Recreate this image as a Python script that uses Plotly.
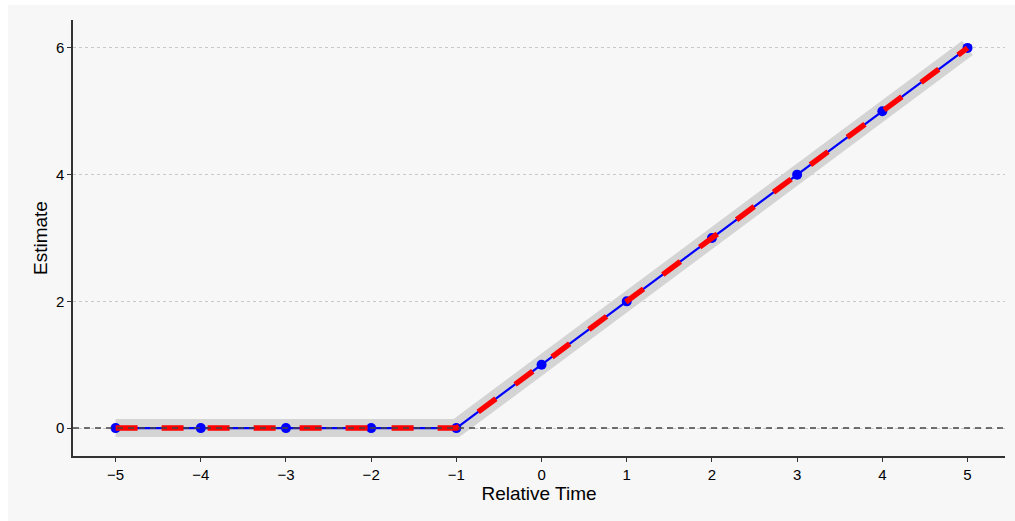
import plotly.graph_objects as go

rel_time = [-5, -4, -3, -2, -1, 0, 1, 2, 3, 4, 5]
estimate = [0, 0, 0, 0, 0, 1, 2, 3, 4, 5, 6]
true_effect = [0, 0, 0, 0, 0, 1, 2, 3, 4, 5, 6]
x_ticks = [-5, -4, -3, -2, -1, 0, 1, 2, 3, 4, 5]
y_ticks = [0, 2, 4, 6]

fig = go.Figure()
fig.add_trace(go.Scatter(x=rel_time, y=estimate, mode="lines",
                         line=dict(color="#d4d4d4", width=18),
                         hoverinfo="skip", showlegend=False))
fig.add_trace(go.Scatter(x=rel_time, y=estimate, mode="lines+markers",
                         line=dict(color="#0000ff", width=2.2),
                         marker=dict(color="#0000ff", size=10),
                         showlegend=False))
fig.add_trace(go.Scatter(x=rel_time, y=true_effect, mode="lines",
                         line=dict(color="#ff0000", width=5.5, dash="22px,24px"),
                         showlegend=False))

fig.add_shape(type="line", xref="paper", yref="y", x0=0, x1=1, y0=0, y1=0,
              line=dict(color="#444444", width=1.5, dash="6px,5px"), layer="above")
# white outer strips
fig.add_shape(type="rect", xref="paper", yref="paper",
              x0=-73/932, x1=-65/932, y0=-65/436, y1=1 + 20/436,
              fillcolor="white", line=dict(width=0), layer="below")
fig.add_shape(type="rect", xref="paper", yref="paper",
              x0=-73/932, x1=1 + 10/932, y0=1 + 15/436, y1=1 + 20/436,
              fillcolor="white", line=dict(width=0), layer="below")

fig.update_layout(
    width=1015, height=521,
    margin=dict(l=73, r=10, t=20, b=65),
    paper_bgcolor="#f7f7f7", plot_bgcolor="#f7f7f7",
    font=dict(family="Liberation Sans, Arial, sans-serif", color="#000000"),
    xaxis=dict(range=[-5.5, 5.44], tickvals=x_ticks, showgrid=False, zeroline=False,
               showline=True, linecolor="#333333", linewidth=1.5,
               ticks="outside", ticklen=4, tickcolor="#333333", tickwidth=1.2,
               tickfont=dict(size=15),
               title=dict(text="Relative Time", font=dict(size=19), standoff=2)),
    yaxis=dict(range=[-0.44, 6.44], tickvals=y_ticks, showgrid=True,
               gridcolor="#c8c8c8", griddash="dot", gridwidth=1.2, zeroline=False,
               showline=True, linecolor="#333333", linewidth=1.5,
               ticks="outside", ticklen=4, tickcolor="#333333", tickwidth=1.2,
               tickfont=dict(size=15),
               title=dict(text="Estimate", font=dict(size=19), standoff=3)),
)

fig.write_html("out.html")
